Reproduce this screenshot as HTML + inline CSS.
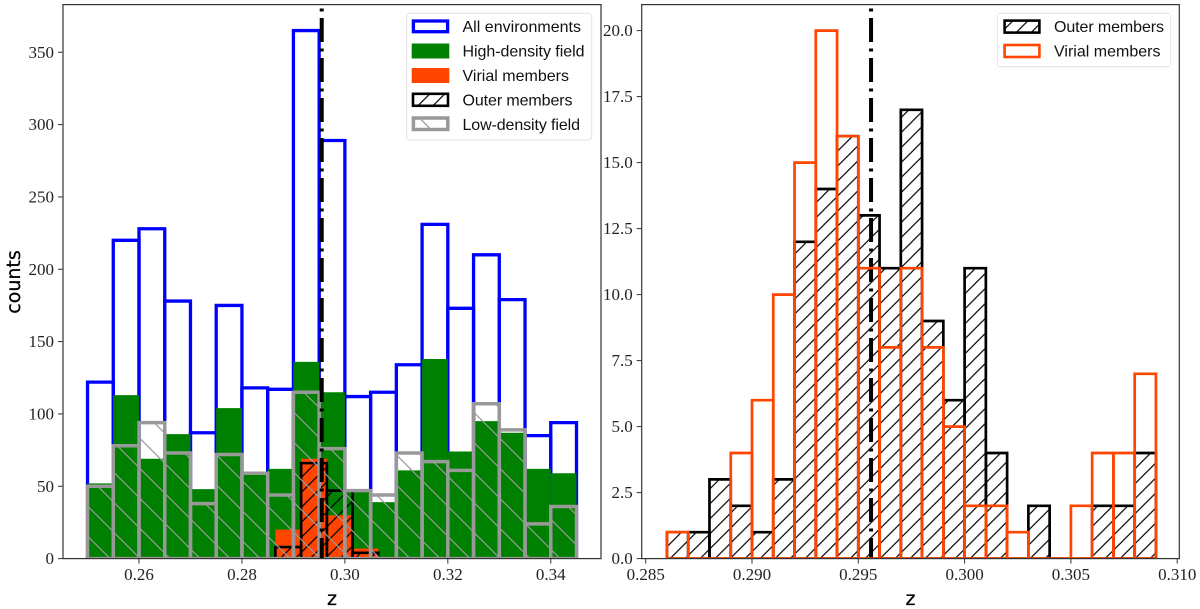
<!DOCTYPE html>
<html>
<head>
<meta charset="utf-8">
<title>Redshift histograms</title>
<style>
html,body{margin:0;padding:0;background:#fff;}
svg{display:block;filter:blur(0.3px);}
.tick{font-family:"Liberation Serif",serif;font-size:17px;fill:#222;}
.leg{font-family:"Liberation Sans",sans-serif;font-size:16px;fill:#111;}
.axl{font-family:"DejaVu Sans",sans-serif;font-size:19px;fill:#000;stroke:#000;stroke-width:0.25px;}
</style>
</head>
<body>
<svg id="fig" xmlns="http://www.w3.org/2000/svg" width="1200" height="609" viewBox="0 0 1200 609">
  <defs>
    <pattern id="hatch-black" patternUnits="userSpaceOnUse" width="15" height="15" patternTransform="translate(13.7 0)">
      <path d="M-1 1 L1 -1 M0 15 L15 0 M14 16 L16 14" stroke="#000" stroke-width="1.15" fill="none"/>
    </pattern>
    <pattern id="hatch-gray" patternUnits="userSpaceOnUse" width="30" height="30" patternTransform="translate(0 -1.5)">
      <path d="M-1 -1 L31 31 M29 -1 L31 1 M-1 29 L1 31" stroke="#999" stroke-width="1.2" fill="none"/>
    </pattern>
    <clipPath id="clip-left"><rect x="63" y="4.5" width="538" height="554"/></clipPath>
    <clipPath id="clip-right"><rect x="641.7" y="4.5" width="537.6" height="554"/></clipPath>
  </defs>
  <g id="left-plot" clip-path="url(#clip-left)"></g>
  <g id="right-plot" clip-path="url(#clip-right)"></g>
  <g id="left-axes"></g>
  <g id="right-axes"></g>

  <text class="axl" transform="translate(20 282) rotate(-90)" text-anchor="middle">counts</text>
  <text class="axl" x="332" y="605" text-anchor="middle">z</text>
  <text class="axl" x="910.5" y="605" text-anchor="middle">z</text>

  <g>
    <rect x="406.7" y="13.3" width="185" height="126.7" rx="3" fill="#fff" fill-opacity="0.85" stroke="#e2e2e2" stroke-width="1"/>
    <g>
      <rect x="413.4" y="21" width="34.2" height="10.7" fill="none" stroke="#0000ff" stroke-width="3.3"/>
      <text class="leg" x="462.5" y="32" textLength="118.5" lengthAdjust="spacing">All environments</text>
    </g>
    <g>
      <rect x="411.7" y="43.5" width="37.6" height="15" fill="#008000"/>
      <text class="leg" x="462.5" y="56.5" textLength="122" lengthAdjust="spacing">High-density field</text>
    </g>
    <g>
      <rect x="411.7" y="68" width="37.6" height="15" fill="#ff4500"/>
      <text class="leg" x="462.5" y="81" textLength="106.5" lengthAdjust="spacing">Virial members</text>
    </g>
    <g>
      <rect x="413" y="93.8" width="35" height="12" fill="url(#hatch-black)" stroke="#000" stroke-width="2.6"/>
      <text class="leg" x="462.5" y="105.5" textLength="110" lengthAdjust="spacing">Outer members</text>
    </g>
    <g>
      <rect x="413.4" y="118" width="34.4" height="11.5" fill="url(#hatch-gray)" stroke="#999" stroke-width="3.5"/>
      <text class="leg" x="462.5" y="130" textLength="117.5" lengthAdjust="spacing">Low-density field</text>
    </g>
  </g>

  <g>
    <rect x="997.3" y="13.3" width="173.4" height="53.4" rx="3" fill="#fff" fill-opacity="0.85" stroke="#e2e2e2" stroke-width="1"/>
    <g>
      <rect x="1004.6" y="20.6" width="34.8" height="12" fill="url(#hatch-black)" stroke="#000" stroke-width="2.6"/>
      <text class="leg" x="1054" y="32" textLength="110" lengthAdjust="spacing">Outer members</text>
    </g>
    <g>
      <rect x="1004.6" y="45" width="34.8" height="12" fill="none" stroke="#ff4500" stroke-width="2.6"/>
      <text class="leg" x="1054" y="56.5" textLength="106.5" lengthAdjust="spacing">Virial members</text>
    </g>
  </g>
</svg>
<script>
// ---- left panel data ----
const leftBinStart = 0.25;
const leftClusterBinStart = 0.2865;
const leftBinWidth = 0.005;
const allEnvironments = [122,220,228,178,87,175,118,117,365,289,112,115,134,231,173,210,179,85,94];
const highDensityField = [52,113,69,86,48,104,58,62,136,115,46,39,61,138,74,95,87,62,59];
const lowDensityField = [50,78,94,73,38,72,59,44,115,76,47,44,73,67,61,107,89,24,36];
const leftVirialMembers = [20,69,30,7];
const leftOuterMembers = [8,66,47,4];
const leftXTicks = [0.26,0.28,0.30,0.32,0.34];
const leftYTicks = [0,50,100,150,200,250,300,350];
const leftClusterRedshift = 0.2955;

// ---- right panel data ----
const rightBinStart = 0.286;
const rightBinWidth = 0.001;
const rightOuterMembers = [1,1,3,2,1,3,12,14,16,13,11,17,9,6,11,4,0,2,0,0,2,2,4];
const rightVirialMembers = [1,0,0,4,6,10,15,20,16,11,8,11,8,5,2,2,1,0,0,2,4,4,7];
const rightXTicks = [0.285,0.290,0.295,0.300,0.305,0.310];
const rightYTicks = [0,2.5,5,7.5,10,12.5,15,17.5,20];
const rightClusterRedshift = 0.2956;

const NS = 'http://www.w3.org/2000/svg';
const BASE = 558.6;
const lx = z => 139 + (z - 0.26) * 5147;
const ly = v => BASE - v * 1.4467;
const rx = z => 645.7 + (z - 0.285) * 21260;
const ry = v => BASE - v * 26.4;

function mk(tag, parent, attrs) {
  const el = document.createElementNS(NS, tag);
  for (const k in attrs) el.setAttribute(k, attrs[k]);
  parent.appendChild(el);
  return el;
}

function drawBars(parent, values, start, width, xf, yf, style, name) {
  values.forEach(function (v, i) {
    const x0 = xf(start + i * width);
    const x1 = xf(start + (i + 1) * width);
    const d = 'M' + x0 + ' ' + yf(0) + ' V' + yf(v) + ' H' + x1 + ' V' + yf(0) + ' Z';
    const p = mk('path', parent, Object.assign({ d: d }, style));
    
    
  });
}

function drawVLine(parent, x, name) {
  const l = mk('line', parent, {
    x1: x, x2: x, y1: 562, y2: 8.5,
    stroke: '#000', 'stroke-width': 4,
    'stroke-dasharray': '24 6.5 3 6.5'
  });
  
  
}

function drawAxes(parent, left, right, xTicks, yTicks, xf, yf, xFmt, yFmt, prefix) {
  const top = 4.6;
  xTicks.forEach(function (t) {
    const x = xf(t);
    const tk = mk('line', parent, { x1: x, x2: x, y1: BASE, y2: BASE + 5, stroke: '#333', 'stroke-width': 1 });
    
    
    const lb = mk('text', parent, { x: x, y: 580, 'text-anchor': 'middle', class: 'tick' });
    lb.textContent = xFmt(t);
    
    
  });
  yTicks.forEach(function (t) {
    const y = yf(t);
    const tk = mk('line', parent, { x1: left - 5, x2: left, y1: y, y2: y, stroke: '#333', 'stroke-width': 1 });
    
    
    const lb = mk('text', parent, { x: left - 9, y: y + 5.6, 'text-anchor': 'end', class: 'tick' });
    lb.textContent = yFmt(t);
    
    
  });
  const frame = mk('rect', parent, {
    x: left, y: top, width: right - left, height: BASE - top,
    fill: 'none', stroke: '#333', 'stroke-width': 1.2
  });
  
  
}

const leftPlot = document.getElementById('left-plot');
const rightPlot = document.getElementById('right-plot');

drawBars(leftPlot, allEnvironments, leftBinStart, leftBinWidth, lx, ly,
  { fill: 'none', stroke: '#0000ff', 'stroke-width': 3.3 }, 'bar-all-environments');
drawBars(leftPlot, highDensityField, leftBinStart, leftBinWidth, lx, ly,
  { fill: '#008000', stroke: 'none' }, 'bar-high-density-field');
drawBars(leftPlot, leftVirialMembers, leftClusterBinStart, leftBinWidth, lx, ly,
  { fill: '#ff4500', stroke: 'none' }, 'bar-virial-members');
drawBars(leftPlot, leftOuterMembers, leftClusterBinStart, leftBinWidth, lx, ly,
  { fill: 'url(#hatch-black)', stroke: '#000', 'stroke-width': 2.6 }, 'bar-outer-members');
drawBars(leftPlot, lowDensityField, leftBinStart, leftBinWidth, lx, ly,
  { fill: 'url(#hatch-gray)', stroke: '#999', 'stroke-width': 3.5 }, 'bar-low-density-field');
drawVLine(leftPlot, lx(leftClusterRedshift), 'left-cluster-redshift-line');

drawBars(rightPlot, rightOuterMembers, rightBinStart, rightBinWidth, rx, ry,
  { fill: 'url(#hatch-black)', stroke: '#000', 'stroke-width': 2.7 }, 'bar-outer-members');
drawVLine(rightPlot, rx(rightClusterRedshift), 'right-cluster-redshift-line');
drawBars(rightPlot, rightVirialMembers, rightBinStart, rightBinWidth, rx, ry,
  { fill: 'none', stroke: '#ff4500', 'stroke-width': 2.7 }, 'bar-virial-members');

drawAxes(document.getElementById('left-axes'), 63, 601, leftXTicks, leftYTicks, lx, ly,
  t => t.toFixed(2), t => String(t), 'left');
drawAxes(document.getElementById('right-axes'), 641.7, 1179.3, rightXTicks, rightYTicks, rx, ry,
  t => t.toFixed(3), t => t.toFixed(1), 'right');
</script>
</body>
</html>
